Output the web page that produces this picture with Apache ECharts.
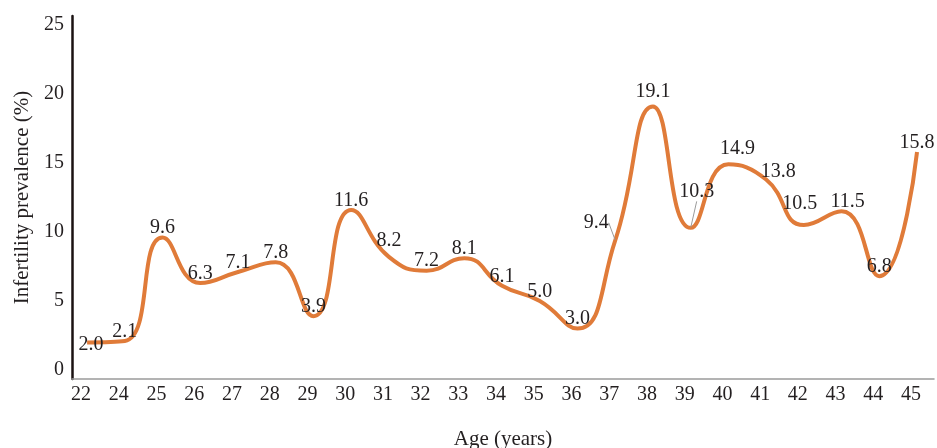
<!DOCTYPE html>
<html>
<head>
<meta charset="utf-8">
<script src="https://cdn.jsdelivr.net/npm/echarts@6/dist/echarts.min.js"></script>
<style>html,body{margin:0;padding:0;background:#fff}#c{width:937px;height:448px}</style>
</head>
<body>
<div id="c"></div>
<script>
var ages = ['22','24','25','26','27','28','29','30','31','32','33','34','35','36','37','38','39','40','41','42','43','44','45'];
var prevalence = [2.0,2.1,9.6,6.3,7.1,7.8,3.9,11.6,8.2,7.2,8.1,6.1,5.0,3.0,9.4,19.1,10.3,14.9,13.8,10.5,11.5,6.8,15.8];
var yTicks = [0,5,10,15,20,25];

// label nudges (style only): index -> [dx, dy]
var labelNudge = {0:[4,12],8:[0,-7],14:[-19,-8],15:[0,-5],16:[6,-27],17:[9,-6],18:[12,2],19:[-4,-12],20:[6,0]};
var leaderIdx = {14:true,16:true};

var font = 'Liberation Serif';
var txt = '#231f20';

var seriesData = prevalence.map(function(v,i){
  var item = {value:[i, v]};
  if (leaderIdx[i]) item.labelLine = {show:true, lineStyle:{color:'#9a9a9a', width:1}};
  return item;
});

var chart = echarts.init(document.getElementById('c'));
chart.setOption({
  animation:false,
  grid:{left:72, right:3, top:16, bottom:69, containLabel:false, outerBoundsMode:'none'},
  xAxis:{
    type:'value', min:-0.40, max:22.45,
    name:'Age (years)', nameLocation:'middle', nameGap:50,
    nameTextStyle:{fontFamily:font, fontSize:21, color:txt},
    axisLine:{onZero:false, lineStyle:{color:'#9a9a9a', width:1.5}},
    axisTick:{show:false},
    splitLine:{show:false},
    axisLabel:{
      customValues: ages.map(function(a,i){return i;}),
      formatter:function(v){return ages[Math.round(v)];},
      fontFamily:font, fontSize:20, color:txt, margin:6, padding:[0,12,0,0]
    }
  },
  yAxis:{
    type:'value', min:-0.65, max:25.65,
    name:'Infertility prevalence (%)', nameLocation:'middle', nameGap:37,
    nameTextStyle:{fontFamily:font, fontSize:21, color:txt},
    axisLine:{show:true, onZero:false, lineStyle:{color:'#1a1212', width:2.5}},
    axisTick:{show:false},
    splitLine:{show:false},
    axisLabel:{customValues:yTicks, fontFamily:font, fontSize:20, color:txt, margin:8}
  },
  series:[{
    type:'line',
    data:seriesData,
    smooth:0.5,
    smoothConstraint:false,
    symbol:'circle', symbolSize:1,
    itemStyle:{color:'rgba(0,0,0,0)'},
    lineStyle:{color:'#e07b39', width:4},
    label:{show:true, position:'top', distance:-1, fontFamily:font, fontSize:20, color:txt,
      formatter:function(p){return p.value[1].toFixed(1);}},
    labelLine:{show:false},
    labelLayout:function(p){
      var n = labelNudge[p.dataIndex];
      return n ? {dx:n[0], dy:n[1]} : {};
    }
  }]
});
</script>
</body>
</html>
